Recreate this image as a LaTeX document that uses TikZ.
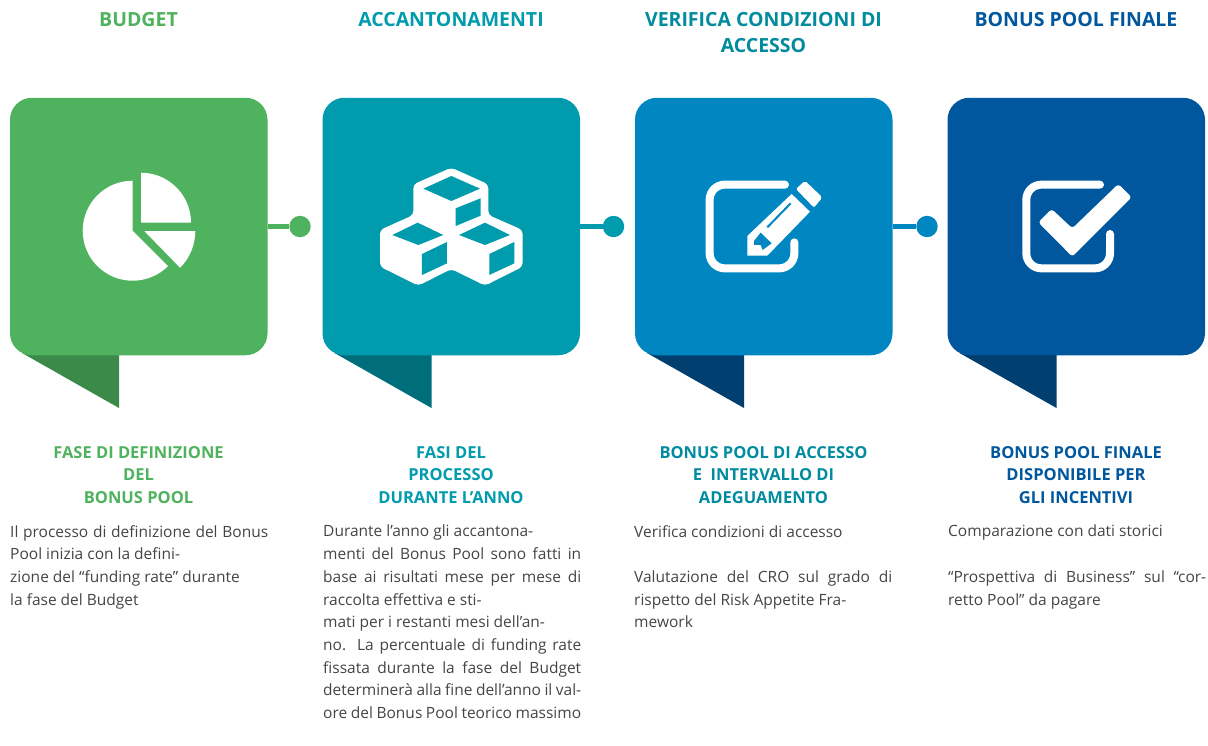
\documentclass[tikz,border=0pt]{standalone}
\usepackage{fontspec}
\setmainfont{Open Sans}
\definecolor{cgreen}{HTML}{4FB25E}
\definecolor{dgreen}{HTML}{3C8A49}
\definecolor{cteal}{HTML}{009BAC}
\definecolor{dteal}{HTML}{006E7A}
\definecolor{cblue}{HTML}{0087C2}
\definecolor{dblue}{HTML}{003F70}
\definecolor{cnavy}{HTML}{00579D}
\definecolor{tteal}{HTML}{008C9E}
\definecolor{body}{HTML}{444444}
\tikzset{
  panel/.style={minimum width=257.5pt,minimum height=257.5pt,rounded corners=22pt,inner sep=0pt,fill=#1},
  dot/.style={circle,minimum size=21.4pt,inner sep=0pt,fill=#1},
  link/.style={line width=5pt,draw=#1},
  tail/.style={fill=#1},
  title/.style={font=\bfseries\fontsize{19.5}{26}\selectfont,align=center,anchor=north,text=#1,inner sep=0pt},
  subtitle/.style={font=\bfseries\fontsize{16.5}{22.7}\selectfont,align=center,anchor=north,text=#1,inner sep=0pt},
  bodytext/.style={font=\fontsize{15.5}{22.7}\selectfont,text=body,anchor=north west,inner sep=0pt,text width=258pt,align=justify},
  frame/.style={draw=white,line width=8pt,line cap=round,rounded corners=15pt},
}
\begin{document}
\begin{tikzpicture}[x=1pt,y=-1pt]
\useasboundingbox (0,0) rectangle (1208,745);
% tails
\fill[tail=dgreen] (22,353) -- (119,353) -- (119,408) -- cycle;
\fill[tail=dteal] (334.5,353) -- (431.5,353) -- (431.5,408) -- cycle;
\fill[tail=dblue] (647,353) -- (744,353) -- (744,408) -- cycle;
\fill[tail=dblue] (959.5,353) -- (1056.5,353) -- (1056.5,408) -- cycle;
% panels
\node[panel=cgreen] (p1) at (138.75,226.5) {};
\node[panel=cteal] (p2) at (451.25,226.5) {};
\node[panel=cblue] (p3) at (763.75,226.5) {};
\node[panel=cnavy] (p4) at (1076.25,226.5) {};
% connectors
\node[dot=cgreen] (d1) at (300,226.5) {};
\node[dot=cteal] (d2) at (613.5,226.5) {};
\node[dot=cblue] (d3) at (927,226.5) {};
\draw[link=cgreen] (p1.east) -- (d1);
\draw[link=cteal] (p2.east) -- (d2);
\draw[link=cblue] (p3.east) -- (d3);
% pie
\fill[white] (132.7,230.7) -- (132.7,180.7) arc[start angle=-90,delta angle=-225,radius=50] -- cycle;
\fill[white] (141,222.7) -- (141,172.7) arc[start angle=-90,delta angle=90,radius=50] -- cycle;
\fill[white] (144.3,231) -- (195.3,231) arc[start angle=0,delta angle=45,radius=52] -- cycle;
% cubes
\begin{scope}[shift={(360,150)},x=0.3333pt,y=-0.3333pt]
\fill[white,rounded corners=4pt] (274,53) -- (385,103) -- (385,195) -- (488,240) -- (488,350) -- (375,407) -- (274,357) -- (175,407) -- (60,350) -- (60,240) -- (160,195) -- (160,103) -- cycle;
\fill[cteal] (190,116) -- (274,78) -- (360,116) -- (274,153) -- cycle;
\fill[cteal] (287,175) -- (362,145) -- (362,197) -- (287,228) -- cycle;
\fill[cteal] (97,255) -- (173,218) -- (250,255) -- (175,285) -- cycle;
\fill[cteal] (186,312) -- (261,276) -- (261,340) -- (186,375) -- cycle;
\fill[cteal] (297,255) -- (375,218) -- (450,255) -- (375,285) -- cycle;
\fill[cteal] (388,312) -- (463,276) -- (463,340) -- (388,375) -- cycle;
\end{scope}
% pencil
\begin{scope}[shift={(690,165)},x=0.3333pt,y=-0.3333pt]
\draw[frame] (285,59) -- (59,59) -- (59,310) -- (313,310) -- (313,232);
\fill[white,rounded corners=2pt] (318,72) -- (345,47) -- (397,97) -- (372,128) -- cycle;
\fill[white] (305,87) -- (360,140) -- (232,272) -- (172,272) -- (172,213) -- cycle;
\draw[cblue,line width=2pt] (232,187) -- (302,115);
\fill[cblue] (192,228) -- (212,203) -- (245,235) -- (218,255) -- (212,240) -- (192,240) -- cycle;
\end{scope}
% check
\begin{scope}[shift={(1005,165)},x=0.3333pt,y=-0.3333pt]
\draw[frame] (285,59) -- (64,59) -- (64,310) -- (315,310) -- (315,207);
\fill[white,rounded corners=3pt] (140,132) -- (202,190) -- (340,57) -- (380,97) -- (202,275) -- (100,172) -- cycle;
\end{scope}
% titles
\node[title=cgreen] (t1) at (138.5,12) {BUDGET};
\node[title=cteal] (t2) at (451,12) {ACCANTONAMENTI};
\node[title=tteal] (t3) at (763.5,12) {VERIFICA CONDIZIONI DI\\ACCESSO};
\node[title=cnavy] (t4) at (1076,12) {BONUS POOL FINALE};
% subtitles
\node[subtitle=cgreen] (s1) at (138.5,446) {FASE DI DEFINIZIONE\\DEL\\BONUS POOL};
\node[subtitle=cteal] (s2) at (451,446) {FASI DEL\\PROCESSO\\DURANTE L’ANNO};
\node[subtitle=tteal] (s3) at (763.5,446) {BONUS POOL DI ACCESSO\\E\ \ INTERVALLO DI\\ADEGUAMENTO};
\node[subtitle=cnavy] (s4) at (1076,446) {BONUS POOL FINALE\\DISPONIBILE PER\\GLI INCENTIVI};
% bodies
\node[bodytext] (b1) at (10,525) {Il processo di definizione del Bonus Pool inizia con la defini-\\zione del “funding rate” durante\\la fase del Budget};
\node[bodytext] (b2) at (323,525) {Durante l’anno gli accantona-\\menti del Bonus Pool sono fatti in base ai risultati mese per mese di raccolta effettiva e sti-\\mati per i restanti mesi dell’an-\\no. La percentuale di funding rate fissata durante la fase del Budget determinerà alla fine dell’anno il valore del Bonus Pool teorico massimo};
\node[bodytext] (b3) at (634,525) {Verifica condizioni di accesso\\[22.7pt]Valutazione del CRO sul grado di rispetto del Risk Appetite Fra-\\mework};
\node[bodytext] (b4) at (948,525) {Comparazione con dati storici\\[22.7pt]“Prospettiva di Business” sul “corretto Pool” da pagare};
\end{tikzpicture}
\end{document}
